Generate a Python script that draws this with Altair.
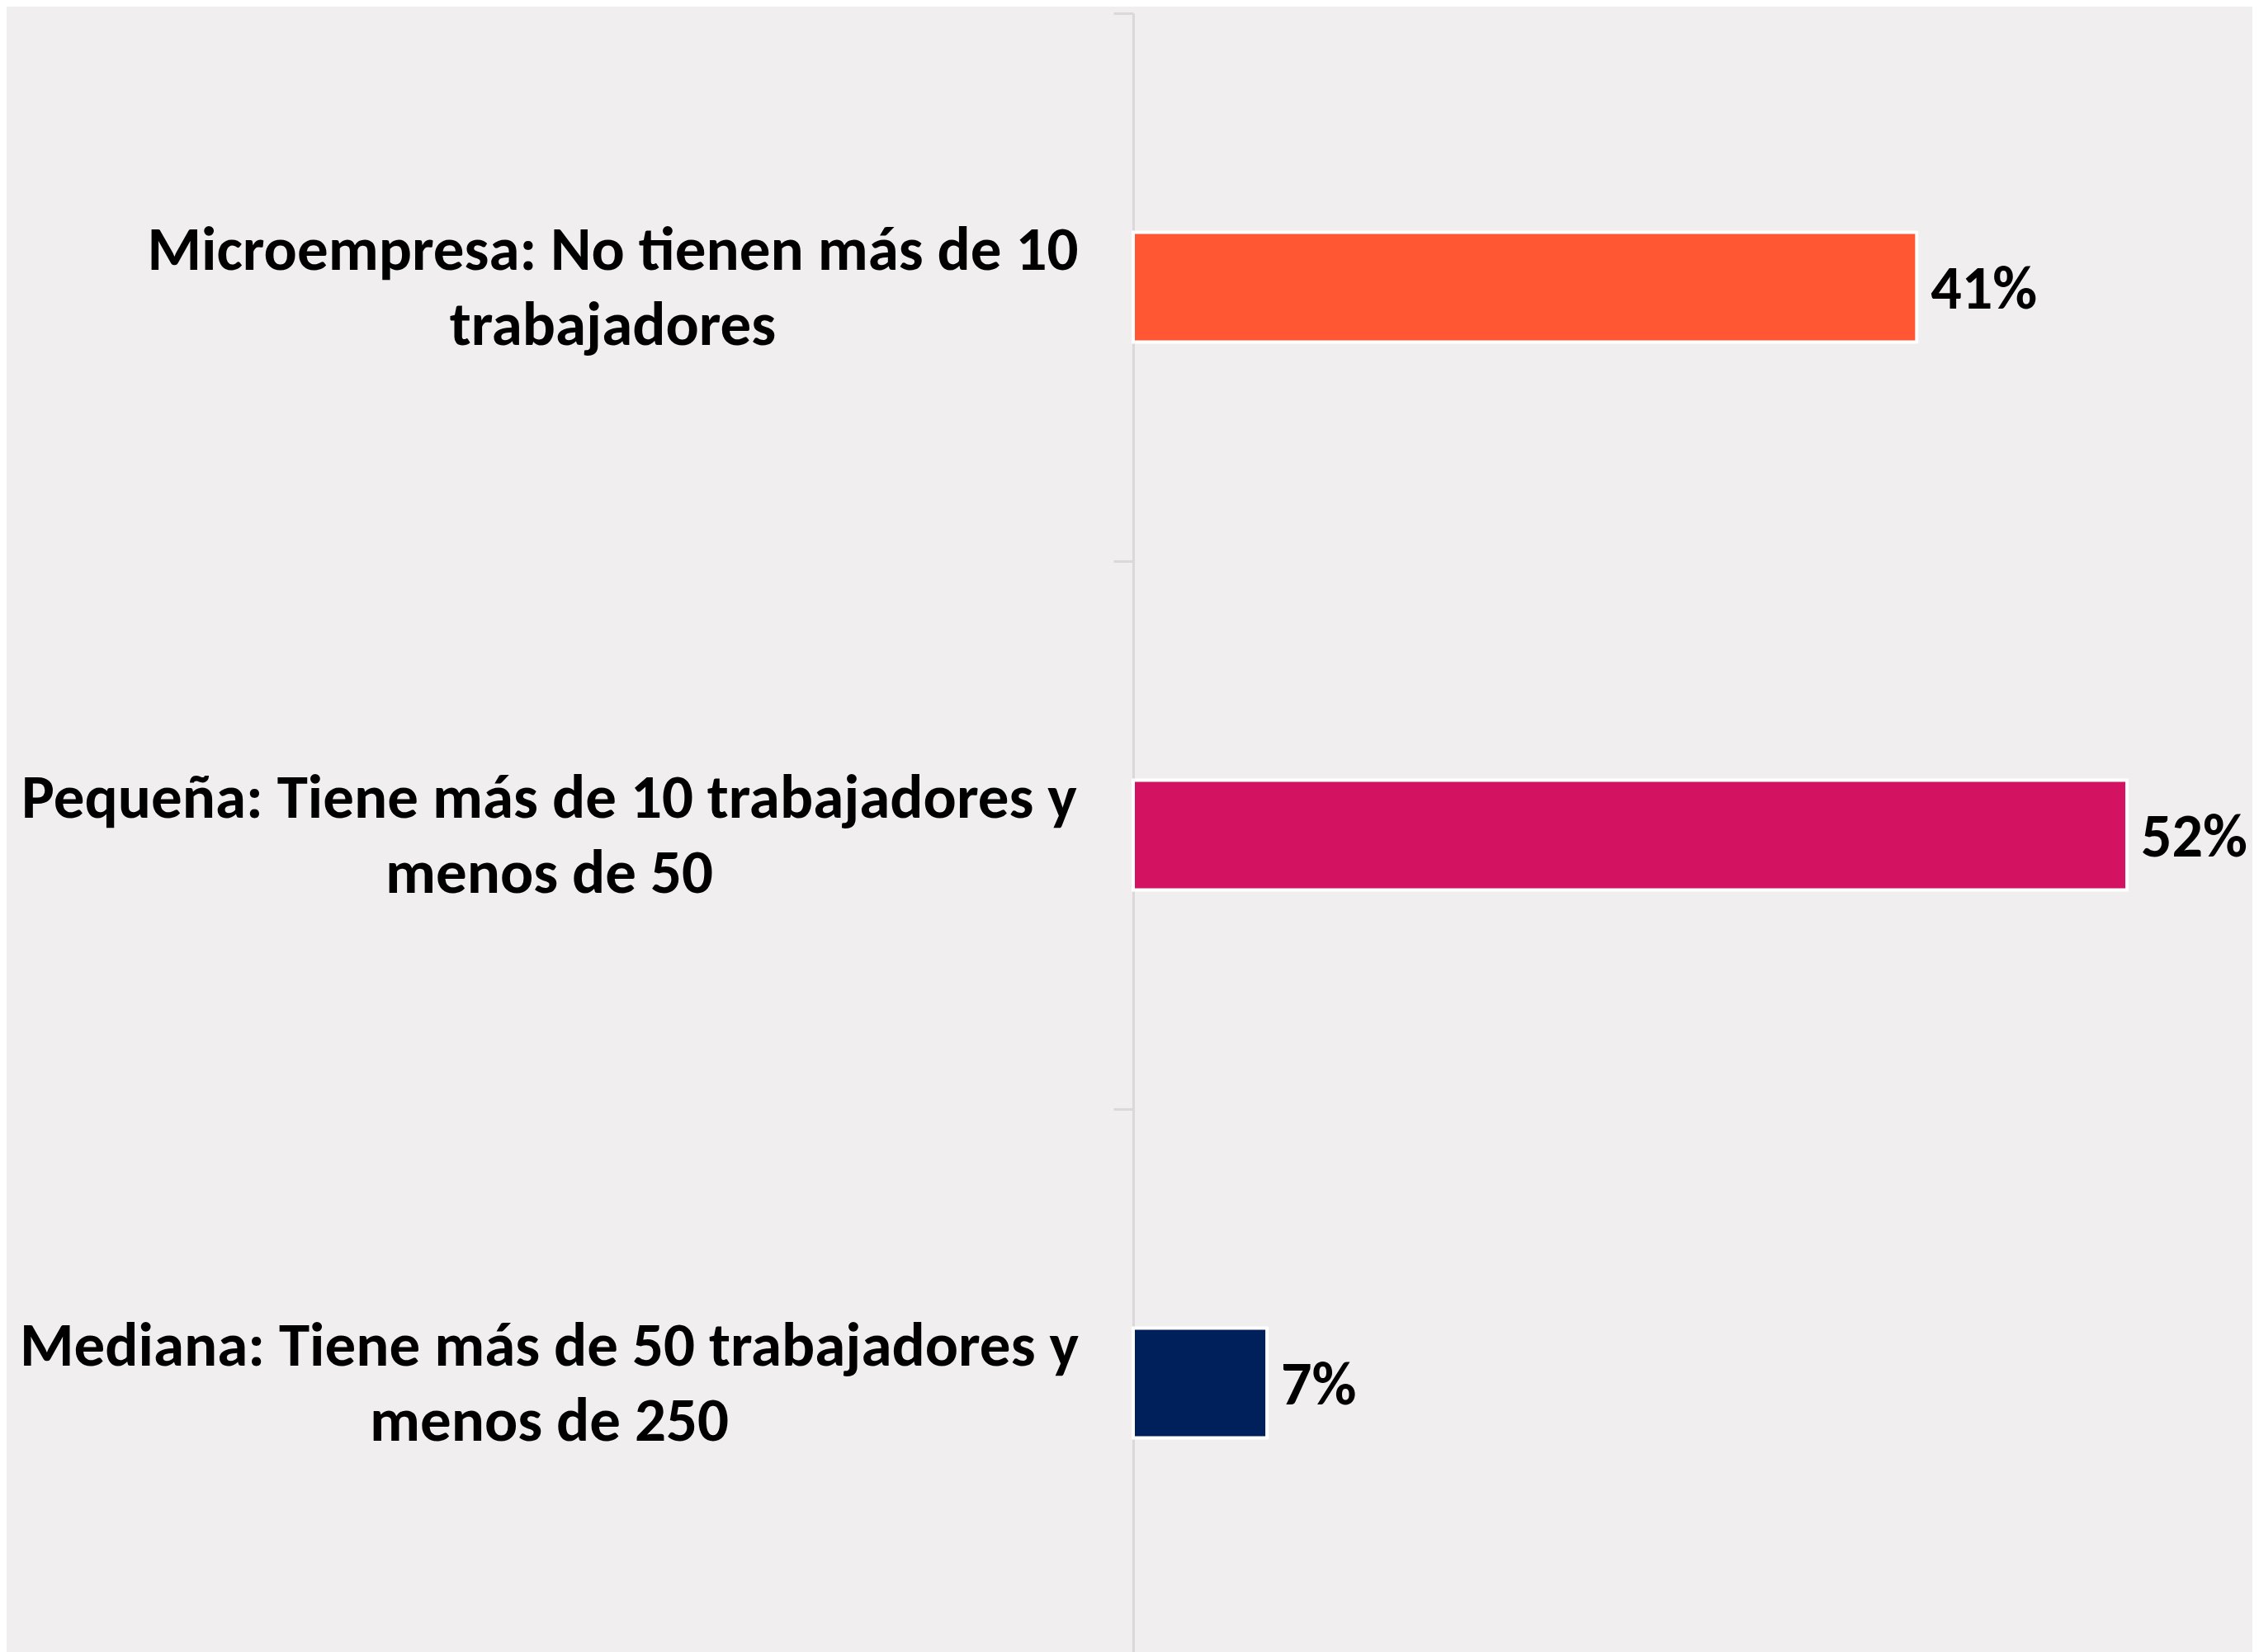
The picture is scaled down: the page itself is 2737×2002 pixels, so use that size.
import altair as alt
import pandas as pd

categories = [
    "Microempresa: No tienen más de 10|trabajadores",
    "Pequeña: Tiene más de 10 trabajadores y|menos de 50",
    "Mediana: Tiene más de 50 trabajadores y|menos de 250",
]
values = [0.41, 0.52, 0.07]
colors = ["#FF5733", "#D31362", "#00205B"]

df = pd.DataFrame({"cat": categories, "val": values, "color": colors})

FONT = "Carlito, Lato, 'Open Sans', sans-serif"

pad_expr = f"datum.value == '{categories[0]}' ? 607 : 684"

y_enc = alt.Y(
    "cat:N",
    sort=categories,
    title=None,
    scale=alt.Scale(paddingInner=0, paddingOuter=0),
    axis=alt.Axis(
        tickBand="extent",
        domainColor="#D9D9D9",
        domainWidth=3,
        tickColor="#D9D9D9",
        tickWidth=3,
        tickSize=24,
        labelFont=FONT,
        labelFontSize=75,
        labelFontWeight="bold",
        labelColor="#000000",
        labelAlign="center",
        labelBaseline="middle",
        labelPadding=alt.ExprRef(expr=pad_expr),
        labelOffset=-45,
        labelLimit=0,
        labelLineHeight=91,
        labelExpr="split(datum.label, '|')",
        grid=False,
    ),
)

x_enc = alt.X("val:Q", scale=alt.Scale(domain=[0, 0.58]), axis=None)

bars = alt.Chart(df).mark_bar(
    stroke="#FFFFFF", strokeWidth=4, height={"band": 0.2}
).encode(
    y=y_enc,
    x=x_enc,
    color=alt.Color("color:N", scale=None),
)

labels = alt.Chart(df).mark_text(
    align="left", baseline="middle", dx=17, dy=4, font=FONT, fontSize=74,
    fontWeight="bold", color="#000000",
).encode(
    y=alt.Y("cat:N", sort=categories),
    x=x_enc,
    text=alt.Text("val:Q", format=".0%"),
)

chart = (bars + labels).properties(
    width=1343,
    height=1992,
    padding={"left": 1365, "top": 8, "right": 13, "bottom": 0},
    autosize="none",
    background="#F0EEEF",
).configure_view(stroke=None)

chart.save("out.html", embed_options={"renderer": "svg", "actions": False})
